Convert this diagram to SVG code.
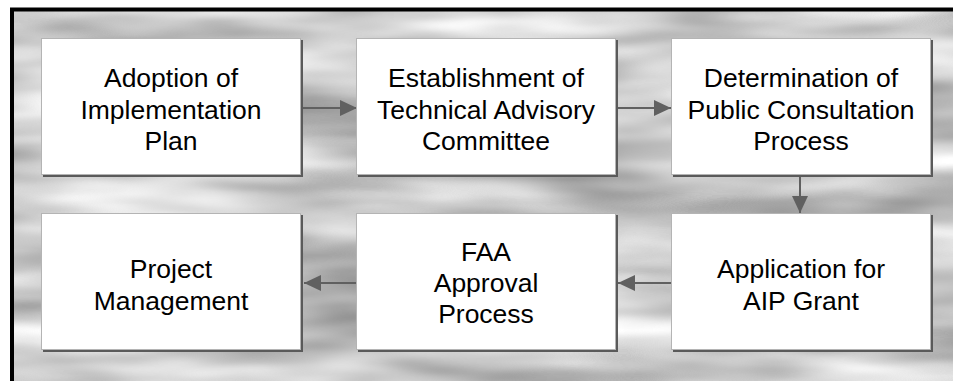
<svg xmlns="http://www.w3.org/2000/svg" width="953" height="381" viewBox="0 0 953 381">
<style>
.shadow{fill:#5a5a5a}
.box{fill:#ffffff;stroke:#b4b4b4;stroke-width:1}
.lbl{font-family:"Liberation Sans",Arial,sans-serif;font-size:26.5px;fill:#000;text-anchor:middle}
.conn{stroke:#606060;stroke-width:2;fill:none;marker-end:url(#ah)}
</style>
<defs>
<filter id="clouds" x="0" y="0" width="100%" height="100%" color-interpolation-filters="sRGB">
<feTurbulence type="fractalNoise" baseFrequency="0.004 0.022" numOctaves="3" seed="7"/>
<feColorMatrix type="matrix" values="0.75 0 0 0 0.41  0.75 0 0 0 0.41  0.75 0 0 0 0.41  0 0 0 0 1"/>
</filter>
<marker id="ah" viewBox="0 0 17 16" refX="17" refY="8" markerWidth="17" markerHeight="16" orient="auto" markerUnits="userSpaceOnUse">
<path d="M0,0 L17,8 L0,16 z" fill="#606060"/>
</marker>
</defs>
<rect x="0" y="0" width="953" height="381" fill="#ffffff"/>
<rect x="12" y="10" width="941" height="371" filter="url(#clouds)"/>
<path d="M12,381 L12,9.5 L953,9.5" fill="none" stroke="#000" stroke-width="4"/>

<g id="connectors">
<path class="conn" d="M303,108 L357,108"/>
<path class="conn" d="M617,108 L671,108"/>
<path class="conn" d="M800,177 L800,213"/>
<path class="conn" d="M671,283 L618,283"/>
<path class="conn" d="M357,283 L304,283"/>
</g>

<g id="n1">
<rect class="shadow" x="43" y="40" width="260" height="137"/>
<rect class="box" x="41.5" y="38.5" width="259" height="136"/>
<text class="lbl"><tspan x="171" y="87">Adoption of</tspan><tspan x="171" y="118.5">Implementation</tspan><tspan x="171" y="150">Plan</tspan></text>
</g>
<g id="n2">
<rect class="shadow" x="358" y="40" width="260" height="137"/>
<rect class="box" x="356.5" y="38.5" width="259" height="136"/>
<text class="lbl"><tspan x="486" y="87">Establishment of</tspan><tspan x="486" y="118.5">Technical Advisory</tspan><tspan x="486" y="150">Committee</tspan></text>
</g>
<g id="n3">
<rect class="shadow" x="673" y="40" width="260" height="137"/>
<rect class="box" x="671.5" y="38.5" width="259" height="136"/>
<text class="lbl"><tspan x="801" y="87">Determination of</tspan><tspan x="801" y="118.5">Public Consultation</tspan><tspan x="801" y="150">Process</tspan></text>
</g>
<g id="n4">
<rect class="shadow" x="673" y="215" width="260" height="137"/>
<rect class="box" x="671.5" y="213.5" width="259" height="136"/>
<text class="lbl"><tspan x="801" y="277.5">Application for</tspan><tspan x="801" y="309.5">AIP Grant</tspan></text>
</g>
<g id="n5">
<rect class="shadow" x="358" y="215" width="260" height="137"/>
<rect class="box" x="356.5" y="213.5" width="259" height="136"/>
<text class="lbl"><tspan x="486" y="261">FAA</tspan><tspan x="486" y="292">Approval</tspan><tspan x="486" y="323">Process</tspan></text>
</g>
<g id="n6">
<rect class="shadow" x="43" y="215" width="260" height="137"/>
<rect class="box" x="41.5" y="213.5" width="259" height="136"/>
<text class="lbl"><tspan x="171" y="277.5">Project</tspan><tspan x="171" y="309.5">Management</tspan></text>
</g>
</svg>
